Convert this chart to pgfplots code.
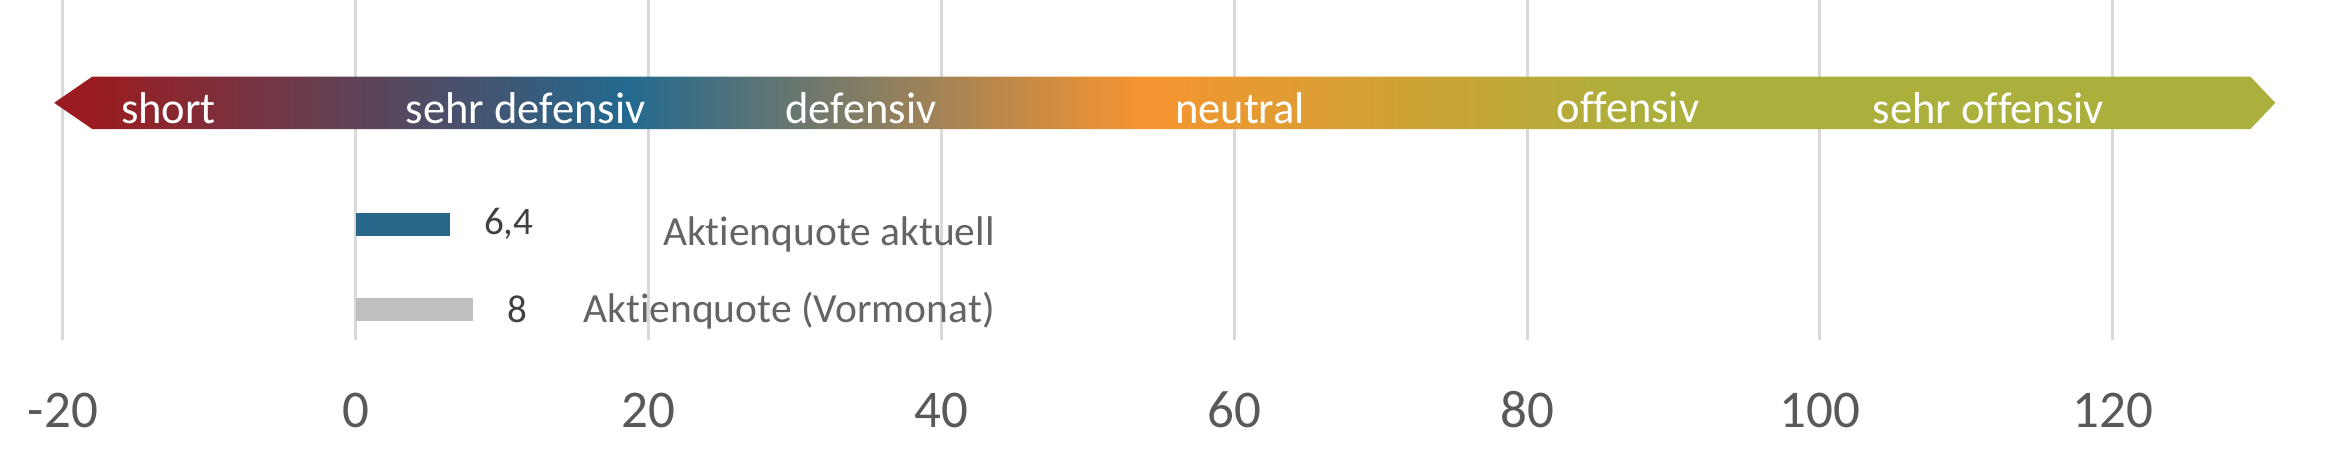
\documentclass[border=0pt]{standalone}
\usepackage{pgfplots}
\pgfplotsset{compat=1.18}
\usepackage{fontspec}
\setmainfont{Carlito}[Ligatures=NoCommon]

\definecolor{bandred}{RGB}{155,28,32}
\definecolor{bandblue}{RGB}{35,105,143}
\definecolor{bandorange}{RGB}{247,148,47}
\definecolor{bandolive}{RGB}{171,175,60}
\definecolor{barblue}{RGB}{41,103,138}
\definecolor{bargray}{RGB}{191,191,191}
\definecolor{gridgray}{RGB}{217,217,217}
\definecolor{ticktext}{RGB}{89,89,89}
\definecolor{legtext}{RGB}{100,100,100}
\definecolor{labeltext}{RGB}{64,64,64}

% band from x=-20.6 to 131.1 -> 25bp..75bp
\pgfdeclarehorizontalshading{band}{100bp}{
  color(0bp)=(bandred); color(25.86bp)=(bandred);
  color(37.89bp)=(bandblue); color(49.49bp)=(bandorange);
  color(60.79bp)=(bandolive); color(100bp)=(bandolive)}

\newcommand{\bandtext}{\fontsize{8.9}{10}\selectfont}

\begin{document}
\begin{tikzpicture}
\useasboundingbox (0,-22pt) rectangle (465.6pt,68pt);
\begin{axis}[
  scale only axis, width=465.6pt, height=68pt,
  xmin=-24.3, xmax=134.7, ymin=0.638, ymax=4.638,
  axis line style={draw=none},
  xtick={-20,0,20,40,60,80,100,120},
  xticklabels={-20,0,20,40,60,80,100,120},
  ytick=\empty, major tick length=0pt,
  xmajorgrids, grid style={gridgray, line width=0.6pt},
  xticklabel style={font=\fontsize{10.6}{12}\selectfont, text=ticktext,
    anchor=base, yshift=-17.6pt},
  clip=false, no markers,
  /pgf/number format/use comma,
  /pgf/number format/assume math mode=true,
]
% arrow band
\addplot[draw=none, shading=band, forget plot] coordinates {
  (-20.6,3.428) (-18,3.736) (129.4,3.736) (131.1,3.428)
  (129.4,3.12) (-18,3.12) (-20.6,3.428)};

% bars
\addplot[xbar, bar width=4.6pt, bar shift=0pt, fill=barblue, draw=none,
  point meta=x, nodes near coords,
  nodes near coords style={anchor=west, xshift=3.4pt, text=labeltext,
    font=\fontsize{7.8}{9}\selectfont}]
  coordinates {(6.4,2)};
\addplot[xbar, bar width=4.6pt, bar shift=0pt, fill=bargray, draw=none,
  point meta=x, nodes near coords,
  nodes near coords style={anchor=west, xshift=3.4pt, text=labeltext,
    font=\fontsize{7.8}{9}\selectfont}]
  coordinates {(8,1)};

% band labels
\begin{scope}[every node/.style={text=white, font=\bandtext, inner sep=0pt, yshift=-1pt}]
\node at (axis cs:-12.8,3.428) {short};
\node at (axis cs:11.6,3.428) {sehr defensiv};
\node at (axis cs:34.5,3.428) {defensiv};
\node at (axis cs:60.4,3.428) {neutral};
\node at (axis cs:86.9,3.428) {offensiv};
\node at (axis cs:111.5,3.428) {sehr offensiv};
\end{scope}

% series names
\node[anchor=base east, inner sep=0pt, text=legtext, font=\fontsize{8.3}{10}\selectfont]
  at (axis cs:43.7,1.754) {Aktienquote aktuell};
\node[anchor=base east, inner sep=0pt, text=legtext, font=\fontsize{8.3}{10}\selectfont]
  at (axis cs:43.7,0.842) {Aktienquote (Vormonat)};
\end{axis}
\end{tikzpicture}
\end{document}
